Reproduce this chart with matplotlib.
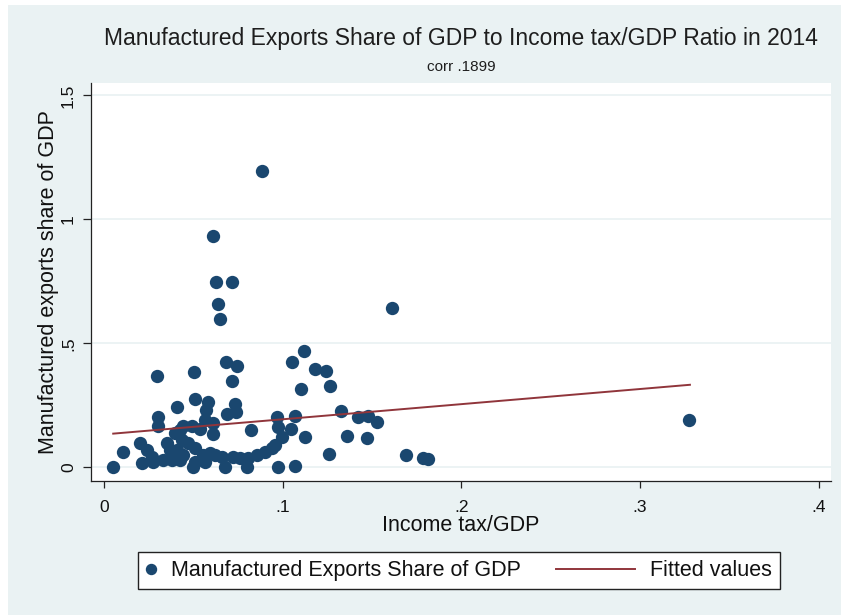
import matplotlib
matplotlib.use("Agg")
import matplotlib.pyplot as plt
from matplotlib.lines import Line2D
from matplotlib.legend_handler import HandlerBase
from matplotlib.patches import Rectangle

plt.rcParams['font.family'] = ['Liberation Sans', 'DejaVu Sans']

# ---------------- data ----------------
income_tax_gdp = [
    0.0885, 0.061, 0.0624, 0.0713, 0.0638, 0.0648, 0.161, 0.3276,
    0.1118, 0.1053, 0.118, 0.124, 0.110, 0.1264, 0.1325, 0.1422,
    0.1478, 0.1529, 0.1066, 0.0965, 0.1044, 0.0993, 0.1124, 0.136,
    0.1473, 0.1256, 0.0974, 0.1066, 0.169, 0.1786, 0.1814, 0.0681,
    0.0741, 0.0715, 0.0293, 0.0502, 0.0405, 0.0302, 0.0302, 0.0510,
    0.0580, 0.0732, 0.0685, 0.0735, 0.0570, 0.0564, 0.0610, 0.0490,
    0.0610, 0.0821, 0.0974, 0.005, 0.0103, 0.020, 0.0237, 0.021,
    0.0265, 0.0274, 0.0396, 0.0424, 0.0442, 0.0349, 0.0368, 0.0405,
    0.0433, 0.033, 0.0377, 0.0424, 0.0442, 0.0498, 0.047, 0.0508,
    0.0508, 0.0554, 0.0592, 0.0657, 0.0676, 0.0722, 0.076, 0.0806,
    0.0797, 0.0853, 0.090, 0.0937, 0.0956, 0.0564, 0.062, 0.0536,
]
manuf_exports_gdp = [
    1.195, 0.933, 0.748, 0.746, 0.658, 0.597, 0.644, 0.191,
    0.469, 0.425, 0.396, 0.390, 0.318, 0.329, 0.228, 0.202,
    0.207, 0.184, 0.208, 0.204, 0.156, 0.124, 0.121, 0.126,
    0.120, 0.054, 0.002, 0.006, 0.050, 0.039, 0.034, 0.424,
    0.407, 0.349, 0.369, 0.385, 0.244, 0.205, 0.167, 0.275,
    0.265, 0.256, 0.215, 0.222, 0.230, 0.190, 0.177, 0.167,
    0.135, 0.149, 0.164, 0.000, 0.063, 0.099, 0.070, 0.019,
    0.043, 0.023, 0.137, 0.150, 0.167, 0.097, 0.070, 0.070,
    0.110, 0.029, 0.029, 0.029, 0.050, 0.002, 0.097, 0.077,
    0.023, 0.050, 0.056, 0.043, 0.002, 0.043, 0.036, 0.036,
    0.002, 0.050, 0.063, 0.077, 0.090, 0.023, 0.050, 0.153,
]
fit_x = [0.005, 0.328]
fit_y = [0.136, 0.333]

x_ticks = [0, 0.1, 0.2, 0.3, 0.4]
x_tick_labels = ['0', '.1', '.2', '.3', '.4']
y_ticks = [0, 0.5, 1, 1.5]
y_tick_labels = ['0', '.5', '1', '1.5']

title = 'Manufactured Exports Share of GDP to Income tax/GDP Ratio in 2014'
subtitle = 'corr .1899'
x_label = 'Income tax/GDP'
y_label = 'Manufactured exports share of GDP'
series_label = 'Manufactured Exports Share of GDP'
fit_label = 'Fitted values'

# ---------------- style ----------------
BG = '#EAF2F3'
NAVY = '#1A476F'
MAROON = '#90353B'
W, H = 841, 615

fig = plt.figure(figsize=(W / 100, H / 100), dpi=100)
fig.patch.set_facecolor('white')
fig.patches.append(Rectangle((8 / W, 0), 1 - 8 / W, 1 - 5 / H,
                             transform=fig.transFigure, facecolor=BG,
                             edgecolor='none', zorder=-10))

ax = fig.add_axes([90.7 / W, 1 - 481 / H, (831 - 90.7) / W, (481 - 83) / H])
ax.set_facecolor('white')
ax.set_xlim(-0.0076, 0.407)
ax.set_ylim(-0.055, 1.55)

for s in ['top', 'right']:
    ax.spines[s].set_visible(False)
for s in ['left', 'bottom']:
    ax.spines[s].set_color('#222222')
    ax.spines[s].set_linewidth(0.9)

ax.set_xticks(x_ticks)
ax.set_xticklabels(x_tick_labels)
ax.set_yticks(y_ticks)
ax.set_yticklabels(y_tick_labels, rotation=90, va='center')
ax.tick_params(axis='both', direction='out', color='#222222', width=0.9,
               labelsize=12.5, labelcolor='#111111')
ax.tick_params(axis='x', length=5.0, pad=8.5)
ax.tick_params(axis='y', length=5.5, pad=5)

ax.yaxis.grid(True, color=BG, linewidth=1.3)
ax.xaxis.grid(False)
ax.set_axisbelow(True)

ax.scatter(income_tax_gdp, manuf_exports_gdp, s=92, color=NAVY,
           linewidths=0, zorder=3)
ax.plot(fit_x, fit_y, color=MAROON, linewidth=1.4, zorder=4)

ax.set_xlabel(x_label, fontsize=15.5, labelpad=0.5, color='#111111')
ax.set_ylabel(y_label, fontsize=15.5, labelpad=1.5, color='#111111')

fig.text(461 / W, 1 - 45 / H, title, ha='center', va='baseline',
         fontsize=16.5, color='#1e1e1e')
fig.text(461 / W, 1 - 71 / H, subtitle, ha='center', va='baseline',
         fontsize=11, color='#1e1e1e')


class LongLineHandler(HandlerBase):
    def __init__(self, length_fs):
        super().__init__()
        self.length_fs = length_fs

    def create_artists(self, legend, orig_handle, xdescent, ydescent,
                       width, height, fontsize, trans):
        y = height / 2 - ydescent
        x1 = width - xdescent
        x0 = x1 - self.length_fs * fontsize
        ln = Line2D([x0, x1], [y, y], color=orig_handle.get_color(),
                    linewidth=orig_handle.get_linewidth())
        ln.set_transform(trans)
        return [ln]


h_pts = Line2D([], [], marker='o', linestyle='none', markersize=7.2,
               markerfacecolor=NAVY, markeredgecolor=NAVY)
h_fit = Line2D([], [], color=MAROON, linewidth=1.4)
leg = fig.legend(handles=[h_pts, h_fit], labels=[series_label, fit_label],
                 loc='upper left', bbox_to_anchor=(138 / W, 1 - 552 / H),
                 ncol=2, fontsize=15.5, handlelength=0.45,
                 handletextpad=0.69, columnspacing=4.86, borderpad=0.38,
                 borderaxespad=0, frameon=True, fancybox=False,
                 edgecolor='#222222', framealpha=1, numpoints=1,
                 handler_map={h_fit: LongLineHandler(3.68)})
leg.get_frame().set_linewidth(1.0)
for t in leg.get_texts():
    t.set_color('#111111')

fig.savefig('out.png', dpi=100, facecolor=fig.get_facecolor())
